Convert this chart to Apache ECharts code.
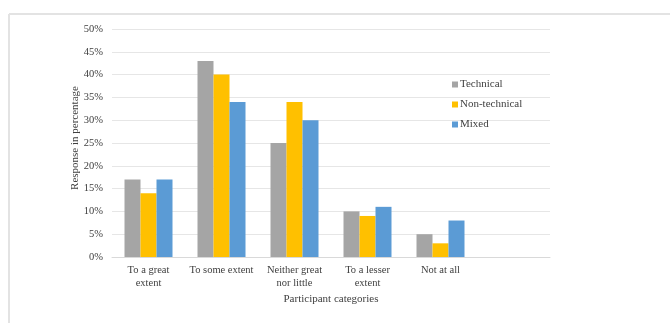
<!DOCTYPE html>
<html>
<head>
<meta charset="utf-8">
<script src="https://cdn.jsdelivr.net/npm/echarts@6/dist/echarts.min.js"></script>
<style>
html,body{margin:0;padding:0;background:#fff;}
#c{width:670px;height:323px;}
</style>
</head>
<body>
<div id="c"></div>
<script>
var categories = ['To a great\nextent', 'To some extent', 'Neither great\nnor little', 'To a lesser\nextent', 'Not at all'];
var seriesNames = ['Technical', 'Non-technical', 'Mixed'];
var technical = [17, 43, 25, 10, 5];
var nonTechnical = [14, 40, 34, 9, 3];
var mixed = [17, 34, 30, 11, 8];
var yTicks = [0, 5, 10, 15, 20, 25, 30, 35, 40, 45, 50];

var colors = ['#A5A5A5', '#FFC000', '#5B9BD5'];
var font = '"Liberation Serif", "Times New Roman", serif';
var chart = echarts.init(document.getElementById('c'));
var dataSets = [technical, nonTechnical, mixed];
chart.setOption({
  animation: false,
  color: colors,
  graphic: [
    {type: 'line', shape: {x1: 9, y1: 14, x2: 670, y2: 14}, style: {stroke: '#e3e3e3', lineWidth: 2}},
    {type: 'line', shape: {x1: 9, y1: 14, x2: 9, y2: 323}, style: {stroke: '#e3e3e3', lineWidth: 2}}
  ],
  grid: {left: 112, right: 120, top: 29, bottom: 66},
  legend: {
    orient: 'vertical',
    left: 447,
    top: 74,
    itemWidth: 6,
    itemHeight: 6,
    itemGap: 9,
    icon: 'rect',
    textStyle: {fontFamily: font, fontSize: 11, color: '#404040', padding: [0, 0, 0, -3]},
    data: seriesNames
  },
  xAxis: {
    type: 'category',
    data: categories.concat(['']),
    name: 'Participant categories',
    nameLocation: 'middle',
    nameGap: 37,
    nameMoveOverlap: false,
    nameTextStyle: {fontFamily: font, fontSize: 11, color: '#404040'},
    axisTick: {show: false},
    axisLine: {lineStyle: {color: '#d9d9d9', width: 1}},
    axisLabel: {fontFamily: font, fontSize: 10.5, color: '#404040', lineHeight: 13, margin: 7, interval: 0}
  },
  yAxis: {
    type: 'value',
    min: yTicks[0],
    max: yTicks[yTicks.length - 1],
    interval: 5,
    name: 'Response in percentage',
    nameLocation: 'middle',
    nameGap: 31,
    nameMoveOverlap: false,
    nameTextStyle: {fontFamily: font, fontSize: 11, color: '#404040', padding: [0, 0, 0, 10]},
    axisLine: {show: false},
    axisTick: {show: false},
    splitLine: {lineStyle: {color: '#e6e6e6', width: 1}},
    axisLabel: {fontFamily: font, fontSize: 10.5, color: '#404040', margin: 9, formatter: '{value}%'}
  },
  series: seriesNames.map(function (n, i) {
    return {
      name: n,
      type: 'bar',
      data: dataSets[i],
      barWidth: 16,
      barGap: '0%',
      itemStyle: {color: colors[i]}
    };
  })
});
</script>
</body>
</html>
